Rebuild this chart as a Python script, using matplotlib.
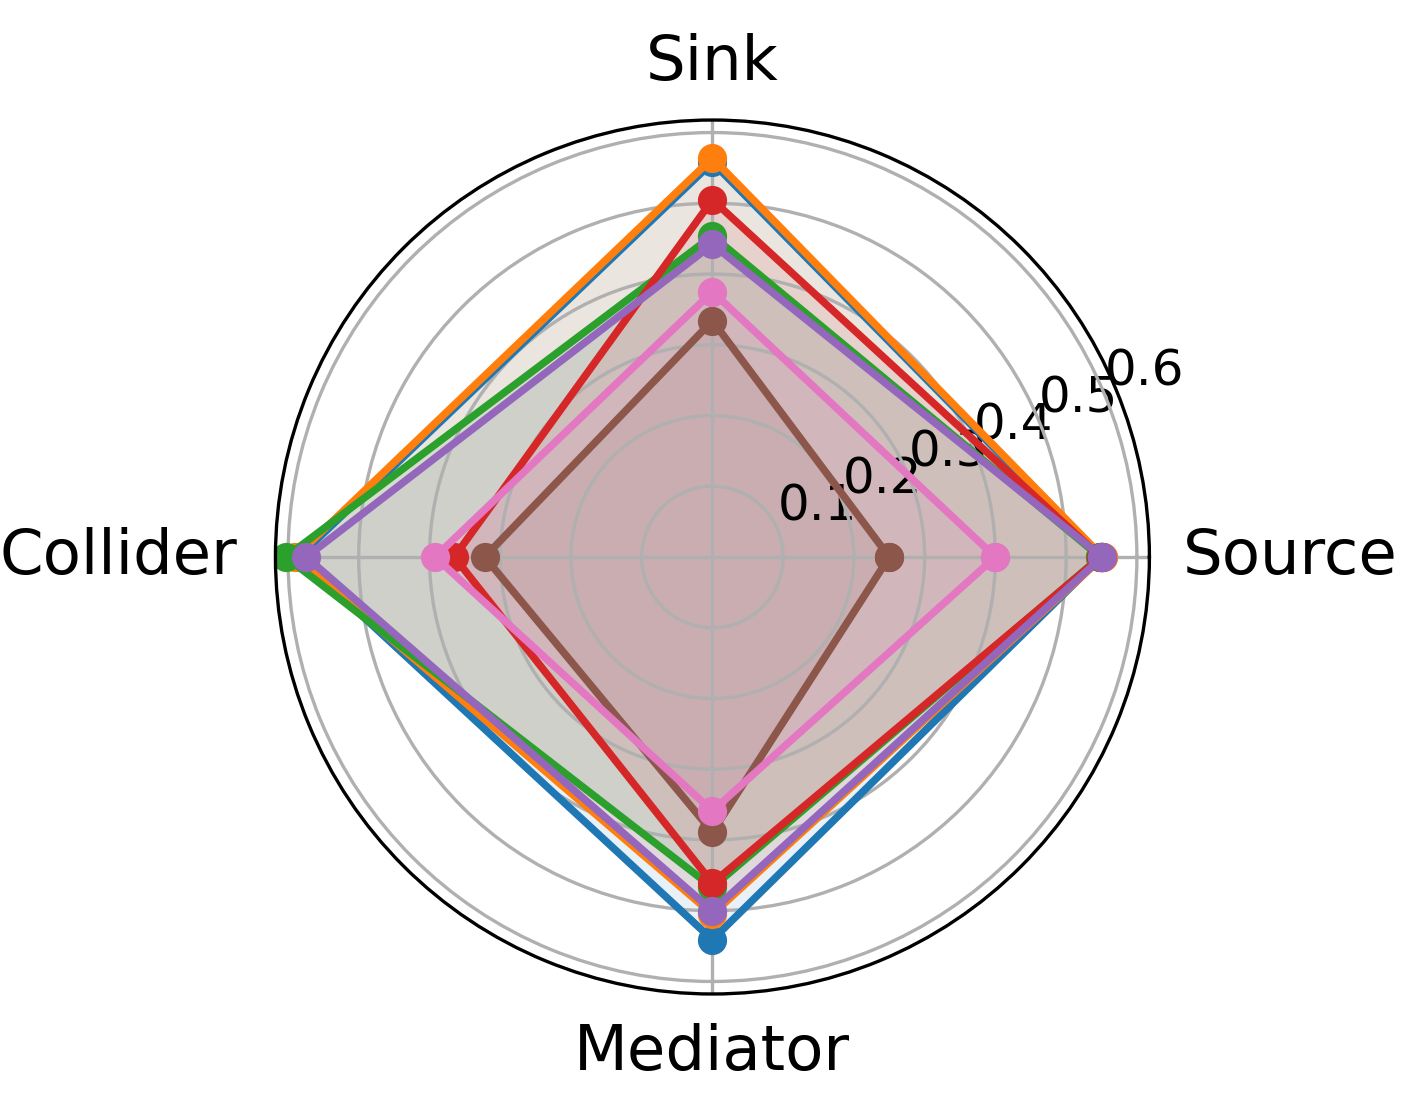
import numpy as np
import matplotlib.pyplot as plt
import matplotlib.transforms as mtransforms

# categories, counter-clockwise from the right
categories = ['Source', 'Sink', 'Collider', 'Mediator']

# one score per category, drawn in tab10 order
blue = [0.550, 0.558, 0.585, 0.541]
orange = [0.552, 0.564, 0.590, 0.505]
green = [0.548, 0.454, 0.603, 0.467]
red = [0.549, 0.505, 0.365, 0.461]
purple = [0.551, 0.442, 0.574, 0.500]
brown = [0.250, 0.334, 0.322, 0.389]
pink = [0.400, 0.375, 0.392, 0.359]

series = [blue, orange, green, red, purple, brown, pink]
colors = ['tab:blue', 'tab:orange', 'tab:green', 'tab:red',
          'tab:purple', 'tab:brown', 'tab:pink']

r_ticks = [0.1, 0.2, 0.3, 0.4, 0.5, 0.6]

angles = np.linspace(0, 2 * np.pi, len(categories), endpoint=False)
closed = np.concatenate([angles, angles[:1]])

fig = plt.figure(figsize=(4.75, 3.7133), dpi=300)
ax = fig.add_axes([0.1933, 0.1068, 0.6133, 0.7846], projection='polar')

for vals, c in zip(series, colors):
    v = vals + vals[:1]
    ax.plot(closed, v, 'o-', color=c, linewidth=1.8, markersize=6)
    ax.fill(closed, v, color=c, alpha=0.1)

ax.set_xticks(angles)
# top/bottom labels as tick labels, side ones placed by hand just outside the circle
side = {0: ('left', 0.665), 2: ('right', 0.672)}
ax.set_xticklabels(['' if i in side else c for i, c in enumerate(categories)], fontsize=15)
lift = mtransforms.offset_copy(ax.transData, fig=fig, x=0, y=1.7, units='points')
for i, (ha, r) in side.items():
    ax.text(angles[i], r, categories[i], ha=ha, va='center_baseline',
            fontsize=15, transform=lift)

ax.set_yticks(r_ticks)
ax.set_yticklabels([str(t) for t in r_ticks], fontsize=12)
ax.set_ylim(0, 0.6177)

fig.savefig('out.png', dpi=300)
